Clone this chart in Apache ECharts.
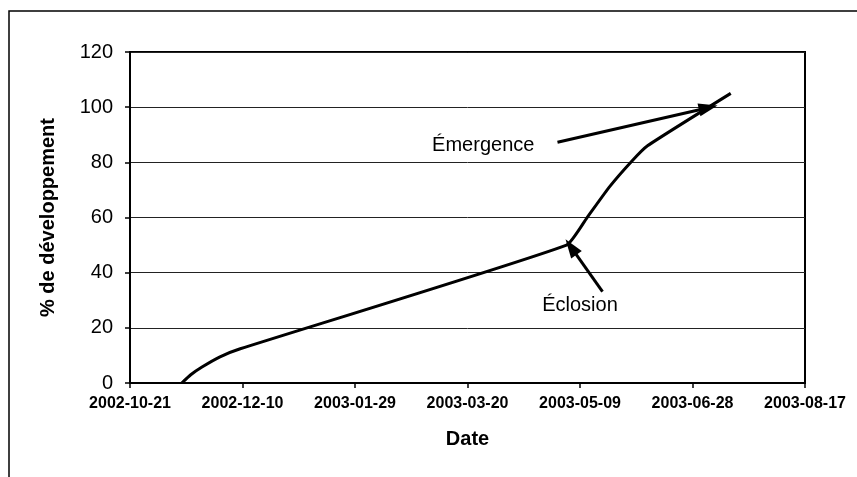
<!DOCTYPE html>
<html>
<head>
<meta charset="utf-8">
<script src="https://cdn.jsdelivr.net/npm/echarts@6/dist/echarts.min.js"></script>
<style>
html,body{margin:0;padding:0;background:#fff;}
#c{width:857px;height:477px;}
</style>
</head>
<body>
<div id="c"></div>
<script>
// ---- data ----
const startDate = '2002-10-21';
const endDate = '2003-08-17';
const tickStepDays = 50;
const dates = ['2002-11-13','2002-11-17','2002-11-22','2002-11-30','2002-12-09','2003-05-03','2003-05-12','2003-05-22','2003-06-01','2003-06-08','2003-07-15'];
const values = [0, 3, 5.8, 9.5, 12.4, 50, 59.8, 71, 80.4, 86, 105];
const yTicks = [0, 20, 40, 60, 80, 100, 120];
const noteLabels = ['Émergence', 'Éclosion'];
const noteTextAt = [['2003-03-27', 86.2], ['2003-05-09', 28]];
const arrowFrom = [['2003-04-29', 87.3], ['2003-05-19', 33.1]];
const arrowTo = [['2003-07-05', 99.8], ['2003-05-05', 49.3]];

// ---- helpers ----
const DAY = 86400000;
const base = Date.parse(startDate + 'T00:00:00Z');
const dayOf = s => Math.round((Date.parse(s + 'T00:00:00Z') - base) / DAY);
const fmt = d => new Date(base + d * DAY).toISOString().slice(0, 10);
const FONT = '"Liberation Sans", Arial, sans-serif';

const seriesData = dates.map((d, i) => [dayOf(d), values[i]]);
const maxDay = dayOf(endDate);

const frame = {
  type: 'rect', silent: true, z: -1,
  shape: { x: 9, y: 11, width: 950, height: 550 },
  style: { fill: 'none', stroke: '#000', lineWidth: 1.5 }
};

const chart = echarts.init(document.getElementById('c'));
chart.setOption({
  animation: false,
  backgroundColor: '#fff',
  grid: {
    left: 130, right: 52, top: 52, bottom: 94,
    show: true, borderColor: '#000', borderWidth: 2, backgroundColor: 'transparent'
  },
  xAxis: {
    type: 'value',
    min: 0, max: maxDay, interval: tickStepDays,
    name: 'Date', nameLocation: 'middle', nameGap: 46,
    nameTextStyle: { fontFamily: FONT, fontSize: 20, fontWeight: 'bold', color: '#000' },
    axisLine: { show: true, onZero: false, lineStyle: { color: '#000', width: 2 } },
    axisTick: { show: true, inside: false, length: 5, lineStyle: { color: '#000', width: 1.5 } },
    axisLabel: { formatter: v => fmt(v), fontFamily: FONT, fontSize: 16, fontWeight: 'bold', color: '#000', margin: 13 },
    splitLine: { show: false }
  },
  yAxis: {
    type: 'value',
    min: yTicks[0], max: yTicks[yTicks.length - 1], interval: yTicks[1] - yTicks[0],
    name: '% de développement', nameLocation: 'middle', nameGap: 72, nameRotate: 90,
    nameTextStyle: { fontFamily: FONT, fontSize: 20, fontWeight: 'bold', color: '#000' },
    axisLine: { show: true, lineStyle: { color: '#000', width: 2 } },
    axisTick: { show: true, inside: false, length: 5, lineStyle: { color: '#000', width: 1.5 } },
    axisLabel: { fontFamily: FONT, fontSize: 20, color: '#000', margin: 17 },
    splitLine: { show: true, lineStyle: { color: '#222', width: 1 } }
  },
  series: [{
    type: 'line',
    data: seriesData,
    showSymbol: false,
    symbol: 'none',
    smooth: 0.15,
    lineStyle: { color: '#000', width: 3 },
    markLine: {
      silent: true,
      symbol: ['none', 'triangle'],
      symbolSize: 16,
      label: { show: false },
      lineStyle: { color: '#000', width: 3, type: 'solid' },
      data: arrowFrom.map((f, i) => [
        { coord: [dayOf(f[0]), f[1]], symbol: 'none' },
        { coord: [dayOf(arrowTo[i][0]), arrowTo[i][1]], symbol: 'triangle', symbolSize: [13, 19] }
      ])
    }
  }],
  graphic: [frame]
});

const texts = noteLabels.map((t, i) => {
  const p = chart.convertToPixel({ gridIndex: 0 }, [dayOf(noteTextAt[i][0]), noteTextAt[i][1]]);
  return {
    type: 'text', silent: true, x: p[0], y: p[1],
    style: { text: t, fontFamily: FONT, fontSize: 20, fill: '#000', align: 'center', verticalAlign: 'middle' }
  };
});
chart.setOption({ graphic: [frame].concat(texts) });
</script>
</body>
</html>
